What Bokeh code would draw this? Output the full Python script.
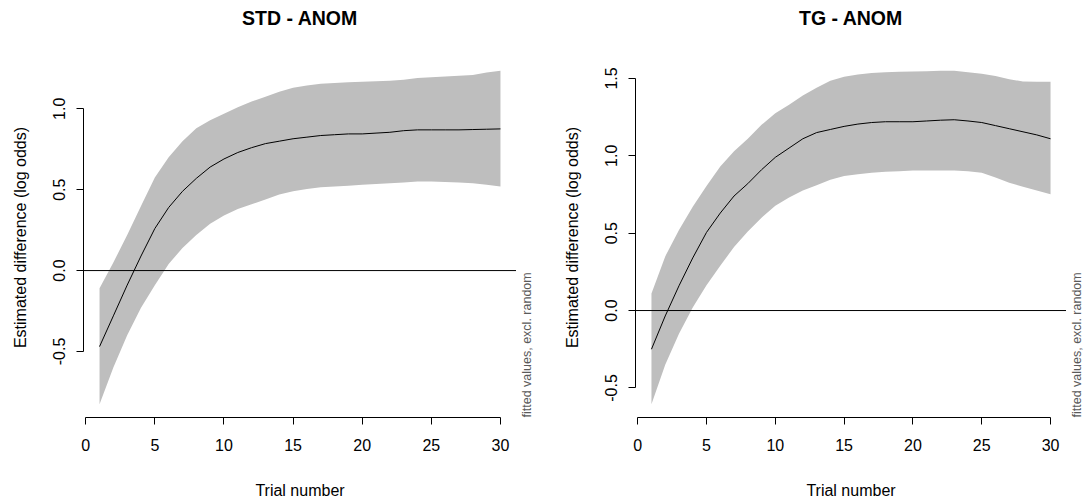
import math

from bokeh.core.properties import value
from bokeh.embed import file_html
from bokeh.layouts import column, row
from bokeh.models import (ColumnDataSource, FixedTicker, PrintfTickFormatter,
                          Range1d, Span)
from bokeh.plotting import figure
from bokeh.resources import INLINE

# Trial numbers shared by both panels
trial = list(range(1, 31))

# STD - ANOM: fitted difference and its confidence band
std_fit = [-0.47, -0.28, -0.09, 0.09, 0.26, 0.39, 0.49, 0.57, 0.64, 0.69,
           0.73, 0.76, 0.785, 0.80, 0.815, 0.825, 0.835, 0.84, 0.845, 0.845,
           0.85, 0.855, 0.865, 0.87, 0.87, 0.87, 0.87, 0.872, 0.874, 0.876]
std_upper = [-0.11, 0.05, 0.22, 0.40, 0.575, 0.70, 0.80, 0.88, 0.93, 0.97,
             1.01, 1.045, 1.075, 1.105, 1.13, 1.145, 1.155, 1.16, 1.165, 1.168,
             1.17, 1.174, 1.18, 1.19, 1.195, 1.20, 1.205, 1.21, 1.225, 1.235]
std_lower = [-0.826, -0.60, -0.40, -0.23, -0.09, 0.04, 0.14, 0.22, 0.29, 0.34,
             0.38, 0.41, 0.44, 0.47, 0.49, 0.505, 0.515, 0.52, 0.525, 0.53,
             0.535, 0.54, 0.545, 0.55, 0.55, 0.548, 0.545, 0.54, 0.53, 0.52]

# TG - ANOM: fitted difference and its confidence band
tg_fit = [-0.25, -0.035, 0.16, 0.34, 0.505, 0.63, 0.74, 0.82, 0.91, 0.99,
          1.05, 1.11, 1.15, 1.17, 1.19, 1.205, 1.215, 1.22, 1.22, 1.22,
          1.225, 1.23, 1.233, 1.225, 1.215, 1.195, 1.175, 1.155, 1.135, 1.11]
tg_upper = [0.11, 0.35, 0.52, 0.67, 0.805, 0.93, 1.03, 1.11, 1.20, 1.275,
            1.33, 1.39, 1.44, 1.485, 1.51, 1.525, 1.535, 1.54, 1.543, 1.545,
            1.547, 1.549, 1.549, 1.54, 1.53, 1.515, 1.495, 1.48, 1.478, 1.478]
tg_lower = [-0.605, -0.35, -0.15, 0.02, 0.164, 0.29, 0.41, 0.51, 0.60, 0.677,
            0.73, 0.775, 0.81, 0.845, 0.87, 0.88, 0.89, 0.897, 0.90, 0.905,
            0.905, 0.905, 0.905, 0.90, 0.89, 0.86, 0.825, 0.80, 0.775, 0.752]

x_ticks = [0, 5, 10, 15, 20, 25, 30]
std_y_ticks = [-0.5, 0.0, 0.5, 1.0]
tg_y_ticks = [-0.5, 0.0, 0.5, 1.0, 1.5]
side_note = "fitted values, excl. random"

FONT = "Liberation Sans"
TOP, BOTTOM, HEIGHT = 57, 80, 444   # header strip height, bottom border, panel height


def padded(lo, hi, frac=0.04):
    pad = (hi - lo) * frac
    return lo - pad, hi + pad


def bare(width, height, x_range, y_range, left=0, right=0, top=0, bottom=0):
    f = figure(width=width, height=height, output_backend="svg", toolbar_location=None,
               x_range=x_range, y_range=y_range, x_axis_type=None, y_axis_type=None,
               min_border_left=left, min_border_right=right,
               min_border_top=top, min_border_bottom=bottom)
    f.outline_line_color = None
    f.xgrid.visible = False
    f.ygrid.visible = False
    return f


def panel(fit, upper, lower, y_ticks, border_left, width):
    x0, x1 = padded(min(trial), max(trial))
    y0, y1 = padded(min(lower), max(upper))
    p = figure(width=width, height=HEIGHT, output_backend="svg", toolbar_location=None,
               x_range=Range1d(x0, x1), y_range=Range1d(y0, y1),
               min_border_left=border_left, min_border_right=0,
               min_border_top=0, min_border_bottom=BOTTOM)
    p.outline_line_color = None
    p.xgrid.visible = False
    p.ygrid.visible = False
    p.background_fill_color = "white"
    p.border_fill_color = "white"

    src = ColumnDataSource(dict(x=trial, fit=fit, upper=upper, lower=lower))
    p.varea(x="x", y1="lower", y2="upper", source=src, fill_color="#bebebe")
    p.line(x="x", y="fit", source=src, line_color="black", line_width=1)
    p.add_layout(Span(location=0, dimension="width", line_color="black", line_width=1))

    for ax in (p.xaxis[0], p.yaxis[0]):
        ax.axis_line_color = "black"
        ax.major_tick_line_color = "black"
        ax.minor_tick_line_color = None
        ax.major_tick_out = 7
        ax.major_tick_in = 0
        ax.major_label_text_font = FONT
        ax.major_label_text_font_size = "16px"
        ax.major_label_text_color = "black"
        ax.axis_label_text_font = FONT
        ax.axis_label_text_font_size = "16px"
        ax.axis_label_text_font_style = "normal"
        ax.axis_label_text_color = "black"

    xa = p.xaxis[0]
    xa.ticker = FixedTicker(ticks=x_ticks)
    xa.bounds = (x_ticks[0], x_ticks[-1])
    xa.axis_label = "Trial number"
    xa.major_label_standoff = 14
    xa.axis_label_standoff = 28

    ya = p.yaxis[0]
    ya.ticker = FixedTicker(ticks=y_ticks)
    ya.bounds = (y_ticks[0], y_ticks[-1])
    ya.formatter = PrintfTickFormatter(format="%.1f")
    ya.major_label_orientation = "vertical"
    ya.axis_label = "Estimated difference (log odds)"
    ya.major_label_standoff = 11
    ya.axis_label_standoff = 22
    return p


def header(p, text, border_left, border_right):
    # strip above a panel holding its bold title, centred on the panel's x range
    h = bare(p.width + border_right, TOP, p.x_range, Range1d(0, TOP),
             left=border_left, right=border_right)
    xr = p.x_range
    h.text(x=[(xr.start + xr.end) / 2], y=[TOP - 17], text=[text],
           text_align="center", text_baseline="middle",
           text_font=value(FONT), text_font_size="19.5px", text_font_style="bold",
           text_color="black")
    return h


def margin_note(p, width):
    # narrow strip to the right of a panel carrying the rotated side note
    s = bare(width, HEIGHT, Range1d(0, 1), p.y_range, bottom=BOTTOM)
    s.text(x=[0], y=[p.y_range.start], text=[side_note], angle=math.pi / 2,
           text_align="left", text_baseline="top", x_offset=3,
           text_font=value(FONT), text_font_size="12.5px", text_color="#5a5a5a")
    return s


left = panel(std_fit, std_upper, std_lower, std_y_ticks, 83, 516)
right = panel(tg_fit, tg_upper, tg_lower, tg_y_ticks, 93, 524)

layout = column(
    row(header(left, "STD - ANOM", 83, 26), header(right, "TG - ANOM", 93, 18)),
    row(left, margin_note(left, 26), right, margin_note(right, 18)),
)
open("out.html", "w").write(file_html(layout, INLINE))
